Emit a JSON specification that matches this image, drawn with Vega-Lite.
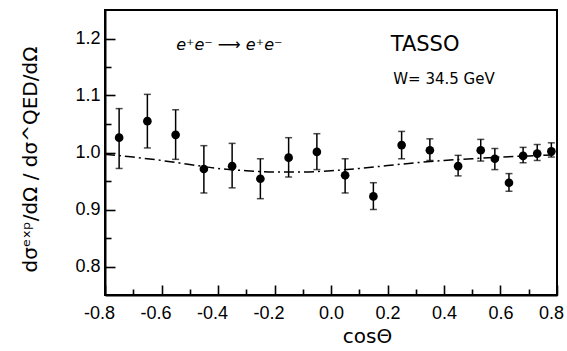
{
  "$schema": "https://vega.github.io/schema/vega-lite/v6.json",
  "width": 452,
  "height": 285,
  "autosize": {"type": "none"},
  "padding": {"left": 105, "top": 10, "right": 10, "bottom": 56},
  "background": "white",
  "config": {
    "view": {"stroke": "black", "strokeWidth": 2},
    "axis": {
      "domainColor": "black",
      "domainWidth": 2,
      "tickColor": "black",
      "tickWidth": 1.6,
      "grid": false,
      "labelFont": "Liberation Sans, Arial, Roboto",
      "labelFontSize": 18,
      "labelColor": "black",
      "labelFlush": false,
      "labelOverlap": false,
      "labelBound": false,
      "titleFont": "DejaVu Sans, Roboto",
      "titleColor": "black",
      "titleFontWeight": "normal"
    }
  },
  "resolve": {"axis": {"x": "independent", "y": "independent"}},
  "layer": [
    {
      "data": {"values": [
        {"c": -0.8, "r": 0.997}, {"c": -0.7, "r": 0.992}, {"c": -0.6, "r": 0.986},
        {"c": -0.5, "r": 0.979}, {"c": -0.4, "r": 0.972}, {"c": -0.3, "r": 0.968},
        {"c": -0.2, "r": 0.966}, {"c": -0.1, "r": 0.966}, {"c": 0.0, "r": 0.968},
        {"c": 0.1, "r": 0.972}, {"c": 0.2, "r": 0.977}, {"c": 0.3, "r": 0.982},
        {"c": 0.4, "r": 0.986}, {"c": 0.5, "r": 0.989}, {"c": 0.6, "r": 0.992},
        {"c": 0.7, "r": 0.994}, {"c": 0.8, "r": 0.996}
      ]},
      "mark": {"type": "line", "color": "black", "strokeWidth": 1.5, "strokeDash": [10, 4, 2, 4], "interpolate": "monotone"},
      "encoding": {
        "x": {
          "field": "c", "type": "quantitative",
          "scale": {"domain": [-0.8, 0.8], "nice": false, "zero": false},
          "axis": {
            "orient": "bottom",
            "values": [-0.8, -0.7, -0.6, -0.5, -0.4, -0.3, -0.2, -0.1, 0, 0.1, 0.2, 0.3, 0.4, 0.5, 0.6, 0.7, 0.8],
            "tickSize": {"condition": {"test": "abs(round(datum.value*10)) % 2 == 0", "value": -10}, "value": -6},
            "labelExpr": "abs(round(datum.value*10)) % 2 == 0 ? replace(format(datum.value, '.1f'), '−', '-') : ''",
            "labelPadding": 19,
            "labelOffset": {"condition": {"test": "datum.value < -0.01 || datum.value > 0.79", "value": -6}, "value": 0},
            "title": "cosΘ",
            "titleFontSize": 20,
            "titleX": 262,
            "titleY": 47,
            "titleBaseline": "alphabetic"
          }
        },
        "y": {
          "field": "r", "type": "quantitative",
          "scale": {"domain": [0.75, 1.25], "nice": false, "zero": false},
          "axis": {
            "orient": "left",
            "values": [0.8, 0.85, 0.9, 0.95, 1.0, 1.05, 1.1, 1.15, 1.2],
            "tickSize": {"condition": {"test": "abs(round(datum.value*20)) % 2 == 0", "value": -10}, "value": -6},
            "labelExpr": "abs(round(datum.value*20)) % 2 == 0 ? format(datum.value, '.1f') : ''",
            "labelPadding": 15,
            "title": "dσᵉˣᵖ/dΩ   /   dσ^QED/dΩ",
            "titleFontSize": 20,
            "titleAngle": 270,
            "titleX": -75,
            "titleY": 149,
            "titleAlign": "center",
            "titleBaseline": "middle"
          }
        }
      }
    },
    {
      "data": {"name": "pts", "values": [
        {"c": -0.75, "r": 1.026, "lo": 0.972, "hi": 1.077},
        {"c": -0.65, "r": 1.055, "lo": 1.008, "hi": 1.102},
        {"c": -0.55, "r": 1.031, "lo": 0.988, "hi": 1.075},
        {"c": -0.45, "r": 0.971, "lo": 0.929, "hi": 1.012},
        {"c": -0.35, "r": 0.976, "lo": 0.938, "hi": 1.016},
        {"c": -0.25, "r": 0.954, "lo": 0.919, "hi": 0.989},
        {"c": -0.15, "r": 0.991, "lo": 0.957, "hi": 1.026},
        {"c": -0.05, "r": 1.001, "lo": 0.970, "hi": 1.033},
        {"c": 0.05, "r": 0.960, "lo": 0.929, "hi": 0.989},
        {"c": 0.15, "r": 0.923, "lo": 0.900, "hi": 0.947},
        {"c": 0.25, "r": 1.013, "lo": 0.989, "hi": 1.037},
        {"c": 0.35, "r": 1.004, "lo": 0.986, "hi": 1.024},
        {"c": 0.45, "r": 0.976, "lo": 0.959, "hi": 0.995},
        {"c": 0.53, "r": 1.004, "lo": 0.985, "hi": 1.023},
        {"c": 0.58, "r": 0.989, "lo": 0.970, "hi": 1.007},
        {"c": 0.63, "r": 0.947, "lo": 0.932, "hi": 0.963},
        {"c": 0.68, "r": 0.994, "lo": 0.982, "hi": 1.009},
        {"c": 0.73, "r": 0.998, "lo": 0.986, "hi": 1.014},
        {"c": 0.78, "r": 1.002, "lo": 0.992, "hi": 1.017}
      ]},
      "layer": [
        {
          "mark": {"type": "errorbar", "ticks": {"size": 7, "thickness": 1.5, "color": "black"}, "rule": {"strokeWidth": 1.5, "color": "black"}},
          "encoding": {
            "x": {"field": "c", "type": "quantitative", "axis": null},
            "y": {"field": "lo", "type": "quantitative", "axis": null},
            "y2": {"field": "hi"}
          }
        },
        {
          "mark": {"type": "circle", "color": "black", "opacity": 1, "size": 75},
          "encoding": {
            "x": {
              "field": "c", "type": "quantitative",
              "scale": {"domain": [-0.8, 0.8], "nice": false, "zero": false},
              "axis": {
                "orient": "top",
                "values": [-0.8, -0.7, -0.6, -0.5, -0.4, -0.3, -0.2, -0.1, 0, 0.1, 0.2, 0.3, 0.4, 0.5, 0.6, 0.7, 0.8],
                "tickSize": {"condition": {"test": "abs(round(datum.value*10)) % 2 == 0", "value": -10}, "value": -6},
                "labels": false,
                "title": null
              }
            },
            "y": {
              "field": "r", "type": "quantitative",
              "scale": {"domain": [0.75, 1.25], "nice": false, "zero": false},
              "axis": {
                "orient": "right",
                "values": [0.8, 0.85, 0.9, 0.95, 1.0, 1.05, 1.1, 1.15, 1.2],
                "tickSize": {"condition": {"test": "abs(round(datum.value*20)) % 2 == 0", "value": -10}, "value": -6},
                "labels": false,
                "title": null
              }
            }
          }
        }
      ]
    },
    {
      "data": {"values": [{"c": -0.36, "r": 1.188, "label": "e⁺e⁻ ⟶ e⁺e⁻"}]},
      "mark": {"type": "text", "font": "DejaVu Sans, Roboto", "fontSize": 16, "fontStyle": "italic", "color": "black", "align": "center", "baseline": "middle"},
      "encoding": {
        "x": {"field": "c", "type": "quantitative", "axis": null},
        "y": {"field": "r", "type": "quantitative", "axis": null},
        "text": {"field": "label"}
      }
    },
    {
      "data": {"values": [{"c": 0.333, "r": 1.188, "label": "TASSO"}]},
      "mark": {"type": "text", "font": "DejaVu Sans, Roboto", "fontSize": 21, "color": "black", "align": "center", "baseline": "middle"},
      "encoding": {
        "x": {"field": "c", "type": "quantitative", "axis": null},
        "y": {"field": "r", "type": "quantitative", "axis": null},
        "text": {"field": "label"}
      }
    },
    {
      "data": {"values": [{"c": 0.40, "r": 1.129, "label": "W= 34.5 GeV"}]},
      "mark": {"type": "text", "font": "DejaVu Sans, Roboto", "fontSize": 15, "color": "black", "align": "center", "baseline": "middle"},
      "encoding": {
        "x": {"field": "c", "type": "quantitative", "axis": null},
        "y": {"field": "r", "type": "quantitative", "axis": null},
        "text": {"field": "label"}
      }
    }
  ]
}
